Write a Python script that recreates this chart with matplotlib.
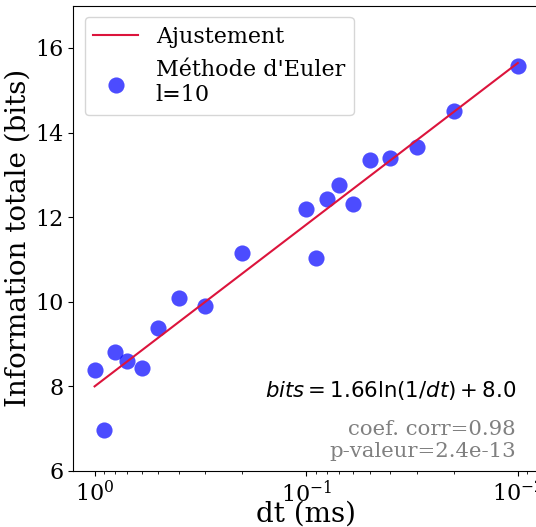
import numpy as np
import matplotlib
matplotlib.use("Agg")
import matplotlib.pyplot as plt

plt.rcParams['font.family'] = 'DejaVu Serif'
plt.rcParams['mathtext.fontset'] = 'dejavusans'

# pas de temps (ms) et information totale (bits)
dt = [1.0, 0.9, 0.8, 0.7, 0.6, 0.5, 0.4, 0.3, 0.2, 0.1,
      0.09, 0.08, 0.07, 0.06, 0.05, 0.04, 0.03, 0.02, 0.01]
bits = [8.38, 6.97, 8.82, 8.60, 8.43, 9.37, 10.10, 9.91, 11.15, 12.19,
        11.04, 12.43, 12.76, 12.32, 13.35, 13.39, 13.65, 14.52, 15.58]

pente = 1.66
origine = 8.0
corr = 0.98
pval = "2.4e-13"

fig = plt.figure(figsize=(5.36, 5.27), dpi=100)
ax = fig.add_axes([0.137, 0.1063, 0.8685, 0.883])

dt_fit = np.array([dt[0], dt[-1]])
ax.plot(dt_fit, pente * np.log(1 / dt_fit) + origine, color='crimson', lw=1.5, label='Ajustement')
ax.scatter(dt, bits, s=135, color='b', alpha=0.7, lw=0, label="Méthode d'Euler\nl=10")

ax.set_xscale('log')
ax.set_xlim(10**0.1, 10**-2.1)
ax.set_ylim(6, 17)
ax.set_yticks([6, 8, 10, 12, 14, 16])
ax.tick_params(labelsize=16)

ax.set_xlabel('dt (ms)', fontsize=20)
ax.xaxis.set_label_coords(0.5, -0.064)
ax.set_ylabel('Information totale (bits)', fontsize=20, labelpad=3)

ax.text(0.95, 0.159, r'$bits = %.2f\ln(1/dt) + %.1f$' % (pente, origine),
        transform=ax.transAxes, ha='right', va='baseline', fontsize=15.3)
ax.text(0.95, 0.022, 'coef. corr=%.2f\np-valeur=%s' % (corr, pval),
        transform=ax.transAxes, ha='right', va='bottom', fontsize=15.3, color='gray')

ax.legend(loc='upper left', fontsize=16)

fig.savefig('out.png', dpi=100)
